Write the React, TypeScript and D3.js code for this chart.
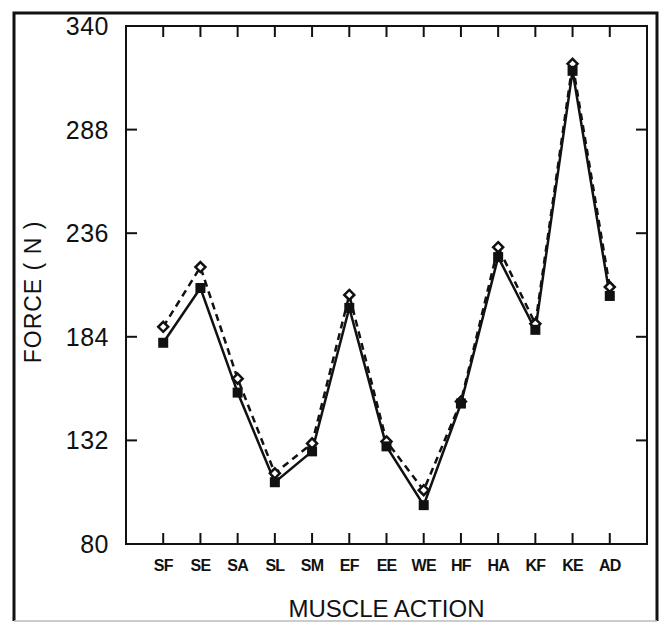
import React, { useRef, useEffect } from 'react';
import * as d3 from 'd3';

const categories = ['SF', 'SE', 'SA', 'SL', 'SM', 'EF', 'EE', 'WE', 'HF', 'HA', 'KF', 'KE', 'AD'];
const solidValues = [181, 208.5, 156, 111, 126.5, 198.5, 129, 99.5, 150.5, 224, 187.5, 317.5, 204.5];
const dashedValues = [189, 219, 163, 115.5, 130.5, 205, 131.5, 107, 151.5, 229, 190.5, 321, 209];
const yTicks = [80, 132, 184, 236, 288, 340];

const W = 663;
const H = 623;

const App = () => {
  const svgRef = useRef<SVGSVGElement>(null);

  useEffect(() => {
    const svg = d3.select(svgRef.current)
      .attr('width', W)
      .attr('height', H)
      .style('background', '#fff');

    svg.selectAll('*').remove();

    const left = 126, right = 647, top = 26, bottom = 544;
    const font = 'Arial, "Liberation Sans", Helvetica, sans-serif';

    const x = d3.scalePoint<string>().domain(categories).range([left, right]).padding(1);
    const y = d3.scaleLinear().domain([80, 340]).range([bottom, top]);

    // outer frame
    svg.append('path')
      .attr('d', `M14,621 L14,13 L657,13 L657,621`)
      .attr('fill', 'none')
      .attr('stroke', '#111')
      .attr('stroke-width', 3);
    svg.append('line')
      .attr('x1', 14).attr('x2', 657).attr('y1', 621).attr('y2', 621)
      .attr('stroke', '#bbb').attr('stroke-width', 1.5);

    // plot box
    svg.append('rect')
      .attr('x', left).attr('y', top)
      .attr('width', right - left).attr('height', bottom - top)
      .attr('fill', 'none').attr('stroke', '#111').attr('stroke-width', 2);

    const tickLen = 11;
    const g = svg.append('g').attr('stroke', '#111').attr('stroke-width', 2);

    // y ticks both sides, inward
    yTicks.forEach(t => {
      g.append('line').attr('x1', left).attr('x2', left + tickLen).attr('y1', y(t)).attr('y2', y(t));
      g.append('line').attr('x1', right).attr('x2', right - tickLen).attr('y1', y(t)).attr('y2', y(t));
    });
    // x ticks top and bottom, inward
    categories.forEach(c => {
      g.append('line').attr('x1', x(c)).attr('x2', x(c)).attr('y1', bottom).attr('y2', bottom - tickLen);
      g.append('line').attr('x1', x(c)).attr('x2', x(c)).attr('y1', top).attr('y2', top + tickLen);
    });

    // y tick labels
    svg.append('g').selectAll('text')
      .data(yTicks)
      .enter()
      .append('text')
      .attr('x', 109)
      .attr('y', d => y(d))
      .attr('dy', '0.36em')
      .attr('text-anchor', 'end')
      .attr('font-family', font)
      .attr('font-size', 25)
      .attr('letter-spacing', 0.5)
      .attr('fill', '#111')
      .text(d => d);

    // x tick labels
    svg.append('g').selectAll('text')
      .data(categories)
      .enter()
      .append('text')
      .attr('x', d => x(d))
      .attr('y', 565)
      .attr('dy', '0.36em')
      .attr('text-anchor', 'middle')
      .attr('font-family', font)
      .attr('font-size', 16)
      .attr('font-weight', 'bold')
      .attr('letter-spacing', -0.8)
      .attr('fill', '#111')
      .text(d => d);

    // axis titles
    svg.append('text')
      .attr('x', (left + right) / 2)
      .attr('y', 608)
      .attr('dy', '0.36em')
      .attr('text-anchor', 'middle')
      .attr('font-family', font)
      .attr('font-size', 24)
      .attr('fill', '#111')
      .text('MUSCLE ACTION');

    svg.append('text')
      .attr('transform', `translate(33, 292) rotate(-90)`)
      .attr('dy', '0.36em')
      .attr('text-anchor', 'middle')
      .attr('font-family', font)
      .attr('font-size', 23)
      .attr('letter-spacing', 1)
      .attr('fill', '#111')
      .text('FORCE ( N )');

    const line = d3.line<number>()
      .x((d, i) => x(categories[i]) as number)
      .y(d => y(d));

    // dashed series
    svg.append('path')
      .datum(dashedValues)
      .attr('d', line)
      .attr('fill', 'none')
      .attr('stroke', '#111')
      .attr('stroke-width', 2.5)
      .attr('stroke-dasharray', '7,5');

    // solid series
    svg.append('path')
      .datum(solidValues)
      .attr('d', line)
      .attr('fill', 'none')
      .attr('stroke', '#111')
      .attr('stroke-width', 2.5);

    // open diamonds
    const dSize = 5;
    svg.append('g').selectAll('path')
      .data(dashedValues)
      .enter()
      .append('path')
      .attr('d', (d, i) => {
        const cx = x(categories[i]) as number, cy = y(d);
        return `M${cx},${cy - dSize} L${cx + dSize},${cy} L${cx},${cy + dSize} L${cx - dSize},${cy} Z`;
      })
      .attr('fill', '#fff')
      .attr('stroke', '#111')
      .attr('stroke-width', 2.5);

    // filled squares
    const sq = 10;
    svg.append('g').selectAll('rect')
      .data(solidValues)
      .enter()
      .append('rect')
      .attr('x', (d, i) => (x(categories[i]) as number) - sq / 2)
      .attr('y', d => y(d) - sq / 2)
      .attr('width', sq)
      .attr('height', sq)
      .attr('fill', '#111');
  }, []);

  return (
    <div style={{ position: 'absolute', left: 0, top: 0 }}>
      <svg ref={svgRef}></svg>
    </div>
  );
};

export default App;
